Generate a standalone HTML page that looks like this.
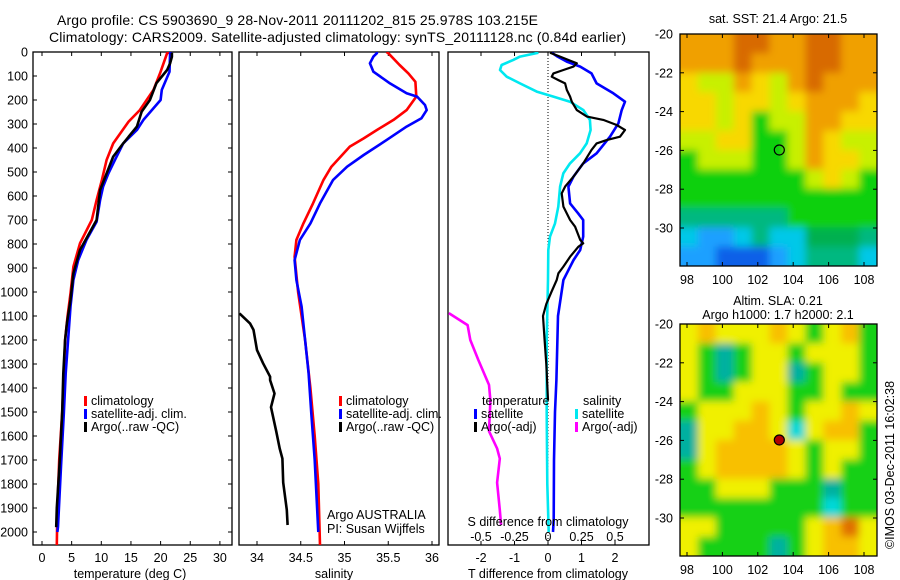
<!DOCTYPE html>
<html><head><meta charset="utf-8">
<style>
html,body{margin:0;padding:0;background:#fff;}
svg{display:block;font-family:"Liberation Sans",Arial,sans-serif;}
text{fill:#000;}
</style></head>
<body>
<svg id="fig" width="900" height="580" viewBox="0 0 900 580" xmlns="http://www.w3.org/2000/svg">
<defs>
<clipPath id="clipMap1"><rect x="680" y="34" width="197" height="232"/></clipPath>
<clipPath id="clipMap2"><rect x="680" y="324" width="197" height="232"/></clipPath>
<clipPath id="clipP1"><rect x="33" y="52" width="199" height="493"/></clipPath>
<clipPath id="clipP2"><rect x="239" y="52" width="200" height="493"/></clipPath>
<clipPath id="clipP3"><rect x="448" y="52" width="201" height="493"/></clipPath>
<filter id="blur1" x="-5%" y="-5%" width="110%" height="110%"><feGaussianBlur stdDeviation="4"/></filter>
<filter id="blur2" x="-5%" y="-5%" width="110%" height="110%"><feGaussianBlur stdDeviation="4"/></filter>
</defs>
<text x="57" y="25" font-size="14" textLength="481">Argo profile: CS 5903690_9 28-Nov-2011 20111202_815 25.978S 103.215E</text>
<text x="49" y="42" font-size="14" textLength="577">Climatology: CARS2009. Satellite-adjusted climatology: synTS_20111128.nc (0.84d earlier)</text>
<g id="layer"></g>
</svg>
<script>
// ---------- DATA ----------
const tClimDepth=[0,5,89,158,242,290,381,450,533,617,700,797,894,1006,1103,1200,1339,1500,1700,1900,2055];
const tClimVal=[21.8,21.1,19.9,18.8,16.5,14.6,12.0,10.9,10.1,9.2,8.4,6.4,5.3,4.8,4.3,3.9,3.7,3.4,2.9,2.6,2.5];
const tSatDepth=[0,5,82,158,200,283,325,381,450,506,561,617,707,783,867,950,1061,1200,1339,1500,1728,1978,2000];
const tSatVal=[21.8,21.6,21.5,20.2,20.0,17.1,16.0,13.7,12.3,11.2,10.3,9.8,9.2,7.5,6.1,5.3,4.8,4.4,4.0,3.7,3.2,2.7,2.6];
const tArgoDepth=[3,20,47,75,130,200,249,311,381,436,575,700,825,922,1033,1131,1200,1339,1500,1700,1900,1980];
const tArgoVal=[21.9,21.9,21.6,21.1,19.3,18.2,16.8,16.0,13.7,12.0,9.8,9.2,6.4,5.3,4.8,4.2,3.9,3.6,3.4,3.0,2.5,2.4];
const sClimDepth=[0,5,54,89,124,186,242,283,325,360,394,478,533,631,714,783,853,1000,1200,1400,1600,1800,2055];
const sClimVal=[35.48,35.50,35.63,35.73,35.81,35.82,35.71,35.56,35.37,35.22,35.06,34.85,34.76,34.64,34.53,34.45,34.43,34.47,34.55,34.61,34.66,34.70,34.72];
const sSatDepth=[0,5,19,47,82,131,172,186,221,242,276,311,367,429,478,533,631,714,783,867,950,1061,1200,1339,1500,1700,2000];
const sSatVal=[35.37,35.37,35.33,35.29,35.33,35.52,35.71,35.83,35.92,35.94,35.88,35.71,35.48,35.22,35.03,34.87,34.72,34.61,34.49,34.43,34.45,34.51,34.55,34.59,34.62,34.66,34.70];
const sArgoDepth=[1089,1131,1158,1242,1297,1353,1367,1423,1480,1580,1652,1694,1794,1908,1971];
const sArgoVal=[33.80,33.92,33.96,34.00,34.07,34.15,34.15,34.20,34.16,34.22,34.26,34.29,34.30,34.34,34.35];
const dTSatDepth=[3,17,40,61,89,131,172,207,242,297,353,422,464,519,561,631,672,700,769,825,867,922,950,1100,1367,1500,1700,1950,2000];
const dTSatVal=[0.11,0.26,0.56,0.96,1.30,1.45,1.95,2.30,2.20,2.10,1.85,1.45,1.05,0.76,0.61,0.66,0.90,1.05,1.05,0.96,0.76,0.56,0.46,0.30,0.25,0.21,0.18,0.17,0.15];
const dTArgoDepth=[3,19,36,47,61,75,89,103,117,131,158,186,207,242,269,283,304,325,353,367,381,408,464,519,561,589,644,700,728,783,797,811,853,894,922,950,1000,1050,1100,1200,1300,1450];
const dTArgoVal=[0.06,0.36,0.66,0.86,0.76,0.46,0.16,0.11,0.31,0.51,0.56,0.66,0.71,0.86,1.16,1.65,2.05,2.30,2.15,1.75,1.45,1.30,1.05,0.76,0.51,0.41,0.46,0.66,0.81,0.96,1.05,0.91,0.66,0.46,0.31,0.26,0.10,-0.05,-0.15,-0.10,-0.05,0.0];
const dSSatDepth=[3,19,33,54,75,103,131,165,186,207,242,283,325,381,422,464,506,561,644,714,769,825,950,1200,1500,1800,2000];
const dSSatVal=[-0.072,-0.209,-0.259,-0.346,-0.358,-0.308,-0.209,-0.084,0.040,0.164,0.264,0.313,0.318,0.289,0.239,0.164,0.114,0.090,0.077,0.052,0.015,0.002,0.0,-0.01,-0.01,-0.005,0.005];
const dSArgoDepth=[1088,1138,1200,1283,1387,1452,1580,1652,1694,1794,1908,1971];
const dSArgoVal=[-0.74,-0.60,-0.58,-0.52,-0.44,-0.43,-0.44,-0.38,-0.36,-0.38,-0.36,-0.35];
const depthTicks=[0,100,200,300,400,500,600,700,800,900,1000,1100,1200,1300,1400,1500,1600,1700,1800,1900,2000];
const tempTicks=[0,5,10,15,20,25,30];
const salTicks=[34,34.5,35,35.5,36];
const salTickLabels=["34","34.5","35","35.5","36"];
const tdTicks=[-2,-1,0,1,2];
const sdTicks=[-0.5,-0.25,0,0.25,0.5];
const sdTickLabels=["-0.5","-0.25","0","0.25","0.5"];
const latTicks=[-20,-22,-24,-26,-28,-30];
const lonTicks=[98,100,102,104,106,108];
const argoLon=103.215, argoLat=-25.978;
const sstGrid=[
"OOOPPOOPPOO","OOOPOOOPPOO","YAAOYAOPOOO","YYAYYAYOOOY","YYAYGAAOOYY",
"AAYYGGAOYAA","GAAAGGAOYYA","GGGGGGGAYAG","GGGGGGGGGGG","TTTTTTGGGGG",
"CBBCTCCHHHT","BBDDDBCTTTC"];
const slaGrid=[
"YOYYYOYGYOG","YGTGYYGYYYG","YGTGYYTGYYG","YGGYYYGGYGG","GYYYOYGYYOY",
"TYYOOYCYOOG","TYOOOOYGYYG","GYOOOOYGYGG","GGYYYGGGTGG","GGGGGGGGCGG",
"YYGGGGGYOPY","YGGGGTGYOOY"];

// ---------- SCALES ----------
const yD=d=>52+0.24*d;
const xT=t=>42+t*5.93;
const xS=s=>257+(s-34)*87.5;
const xTd=v=>548+v*33.5;
const xSd=v=>548+v*134;
const mapX=lon=>687+(lon-98)*17.7;
const mapY=(lat,top)=>top+(-20-lat)*19.4;

const NS="http://www.w3.org/2000/svg";
const layer=document.getElementById('layer');
function mk(tag,attrs,parent){const e=document.createElementNS(NS,tag);for(const k in attrs)e.setAttribute(k,attrs[k]);(parent||layer).appendChild(e);return e;}
function txt(s,x,y,size,anchor,parent){const e=mk('text',{x:x,y:y,'font-size':size,'text-anchor':anchor||'start'},parent);e.textContent=s;return e;}
function line(depths,vals,xf,color,w,clip,name){
  let d='';for(let i=0;i<depths.length;i++){d+=(i?'L':'M')+xf(vals[i]).toFixed(1)+' '+yD(depths[i]).toFixed(1);}
  const p=mk('path',{d:d,fill:'none',stroke:color,'stroke-width':w,'stroke-linejoin':'round','clip-path':'url(#'+clip+')'});
  
  
  return p;
}
function frame(x,y,w,h,name){const r=mk('rect',{x:x,y:y,width:w,height:h,fill:'none',stroke:'#000','stroke-width':1.3});
  
  }

// ---------- PANEL 1 ----------
frame(33,52,199,493,'temperature-panel-frame');
depthTicks.forEach(d=>{
  const y=yD(d);
  mk('line',{x1:33,y1:y,x2:37,y2:y,stroke:'#000'});
  mk('line',{x1:228,y1:y,x2:232,y2:y,stroke:'#000'});
  const t=txt(String(d),28,y+4.5,12.5,'end');
  
  
});
tempTicks.forEach(v=>{
  const x=xT(v);
  mk('line',{x1:x,y1:52,x2:x,y2:56,stroke:'#000'});
  mk('line',{x1:x,y1:541,x2:x,y2:545,stroke:'#000'});
  const t=txt(String(v),x,562,12.5,'middle');
  
  
});
line(tClimDepth,tClimVal,xT,'#ff0000',2.6,'clipP1','temperature-climatology-line');
line(tSatDepth,tSatVal,xT,'#0000ff',2.6,'clipP1','temperature-satellite-line');
line(tArgoDepth,tArgoVal,xT,'#000000',2.6,'clipP1','temperature-argo-line');
const xl1=txt('temperature (deg C)',130,578,12.5,'middle');


function legend(x,y,color,label,name){
  const g=mk('g',{});
  
  
  mk('rect',{x:x,y:y-9,width:3,height:10,fill:color},g);
  txt(label,x+7,y,12.5,'start',g);
}
legend(84,405,'#ff0000','climatology','legend-climatology');
legend(84,418,'#0000ff','satellite-adj. clim.','legend-satellite');
legend(84,431,'#000000','Argo(..raw -QC)','legend-argo');

// ---------- PANEL 2 ----------
frame(239,52,200,493,'salinity-panel-frame');
salTicks.forEach((v,i)=>{
  const x=xS(v);
  mk('line',{x1:x,y1:52,x2:x,y2:56,stroke:'#000'});
  mk('line',{x1:x,y1:541,x2:x,y2:545,stroke:'#000'});
  const t=txt(salTickLabels[i],x,562,12.5,'middle');
  
  
});
line(sClimDepth,sClimVal,xS,'#ff0000',2.6,'clipP2','salinity-climatology-line');
line(sSatDepth,sSatVal,xS,'#0000ff',2.6,'clipP2','salinity-satellite-line');
line(sArgoDepth,sArgoVal,xS,'#000000',2.6,'clipP2','salinity-argo-line');
const xl2=txt('salinity',334,578,12.5,'middle');


legend(339,405,'#ff0000','climatology','legend-climatology-2');
legend(339,418,'#0000ff','satellite-adj. clim.','legend-satellite-2');
legend(339,431,'#000000','Argo(..raw -QC)','legend-argo-2');
const ag=txt('Argo AUSTRALIA',327,519,12.5,'start');


const pi=txt('PI: Susan Wijffels',327,533,12.5,'start');



// ---------- PANEL 3 ----------
frame(448,52,201,493,'difference-panel-frame');
mk('line',{x1:548,y1:52,x2:548,y2:545,stroke:'#000','stroke-width':1,'stroke-dasharray':'1,2'});
tdTicks.forEach(v=>{
  const x=xTd(v);
  mk('line',{x1:x,y1:52,x2:x,y2:56,stroke:'#000'});
  mk('line',{x1:x,y1:541,x2:x,y2:545,stroke:'#000'});
  const t=txt(String(v),x,562,12.5,'middle');
  
  
});
sdTicks.forEach((v,i)=>{
  const t=txt(sdTickLabels[i],xSd(v),541,12.5,'middle');
  
  
});
line(dSSatDepth,dSSatVal,xSd,'#00e8f0',2.6,'clipP3','sdiff-satellite-line');
line(dSArgoDepth,dSArgoVal,xSd,'#ff00ff',2.6,'clipP3','sdiff-argo-line');
line(dTSatDepth,dTSatVal,xTd,'#0000ff',2.6,'clipP3','tdiff-satellite-line');
line(dTArgoDepth,dTArgoVal,xTd,'#000000',2.2,'clipP3','tdiff-argo-line');
const sdt=txt('S difference from climatology',548,526,12.5,'middle');


const tdt=txt('T difference from climatology',548,578,12.5,'middle');


const lt=txt('temperature',482,405,12.5,'start');


const ls=txt('salinity',583,405,12.5,'start');


legend(474,418,'#0000ff','satellite','legend-tdiff-satellite');
legend(474,431,'#000000','Argo(-adj)','legend-tdiff-argo');
legend(575,418,'#00e8f0','satellite','legend-sdiff-satellite');
legend(575,431,'#ff00ff','Argo(-adj)','legend-sdiff-argo');

// ---------- MAPS ----------
const sstPal={P:'#d86a00',O:'#f0a000',Y:'#f8d800',A:'#c8f000',G:'#10d010',T:'#00b880',C:'#00c8e8',B:'#1aa0ff',D:'#1060e8',H:'#00b050'};
const slaPal={Y:'#f0f000',O:'#f8c000',P:'#e07000',G:'#18d018',T:'#00b0a0',C:'#00d8d8'};
function drawMap(grid,pal,top,clip,blurId,name){
  const g=mk('g',{'clip-path':'url(#'+clip+')'});
  
  
  const inner=mk('g',{filter:'url(#'+blurId+')'},g);
  const cw=197/11,ch=232/12;
  grid.forEach((row,r)=>{for(let c=0;c<row.length;c++){
    mk('rect',{x:680+c*cw-8*(c==0),y:top+r*ch-8*(r==0),width:cw+1+8*(c==0)+8*(c==10),height:ch+1+8*(r==0)+8*(r==11),fill:pal[row[c]]},inner);
  }});
  frame(680,top,197,232,name+'-frame');
  latTicks.forEach(l=>{
    const y=mapY(l,top);
    mk('line',{x1:680,y1:y,x2:684,y2:y,stroke:'#000'});
    mk('line',{x1:873,y1:y,x2:877,y2:y,stroke:'#000'});
    const t=txt(String(l),673,y+4.5,12.5,'end');
    
    
  });
  lonTicks.forEach(l=>{
    const x=mapX(l);
    mk('line',{x1:x,y1:top,x2:x,y2:top+4,stroke:'#000'});
    mk('line',{x1:x,y1:top+228,x2:x,y2:top+232,stroke:'#000'});
    const t=txt(String(l),x,top+250,12.5,'middle');
    
    
  });
}
drawMap(sstGrid,sstPal,34,'clipMap1','blur1','sst-map');
drawMap(slaGrid,slaPal,324,'clipMap2','blur2','sla-map');
const m1=mk('circle',{cx:mapX(argoLon),cy:mapY(argoLat,34),r:5,fill:'none',stroke:'#000','stroke-width':1.2});


const m2=mk('circle',{cx:mapX(argoLon),cy:mapY(argoLat,324),r:5,fill:'#b00000',stroke:'#000','stroke-width':1.2});


const mt1=txt('sat. SST: 21.4  Argo: 21.5',778,23,12.5,'middle');


const mt2=txt('Altim. SLA: 0.21',778,305,12.5,'middle');


const mt3=txt('Argo h1000: 1.7  h2000: 2.1',778,319,12.5,'middle');


const cr=txt('\u00A9IMOS 03-Dec-2011 16:02:38',0,0,12.5,'middle');
cr.setAttribute('transform','translate(894,465) rotate(-90)');


</script>
</body></html>
